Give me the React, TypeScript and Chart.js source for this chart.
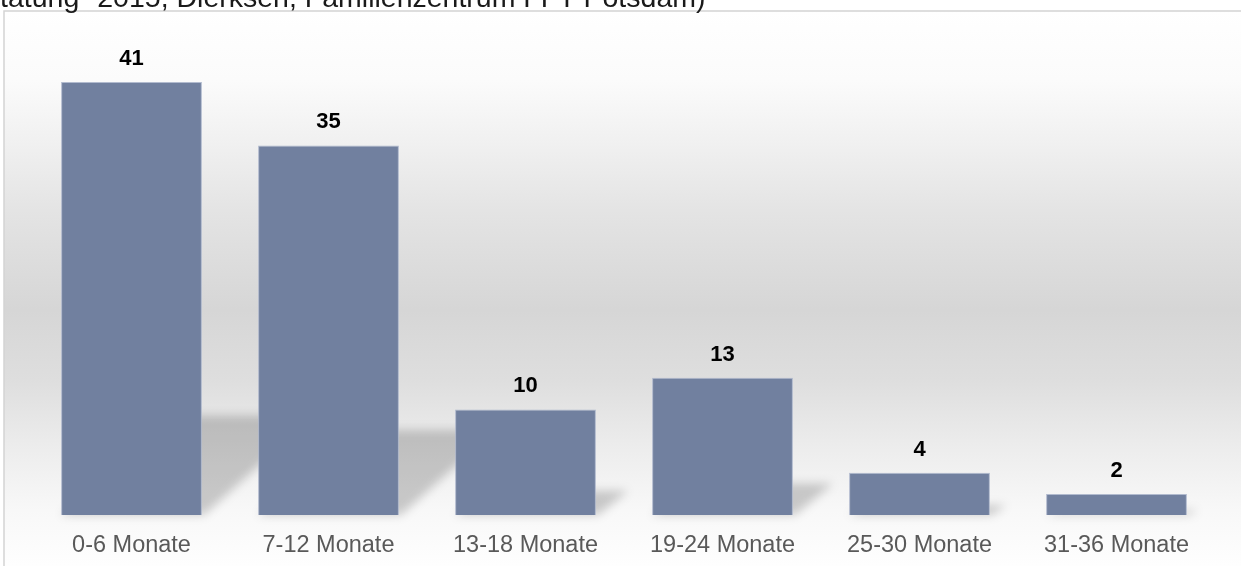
import React, { useEffect, useRef } from "react";
import { Chart, registerables } from "chart.js";

Chart.register(...registerables);

const categories = ["0-6 Monate", "7-12 Monate", "13-18 Monate", "19-24 Monate", "25-30 Monate", "31-36 Monate"];
const values = [41, 35, 10, 13, 4, 2];
const headerText = "tatung\" 2015, Dierksen, Familienzentrum FFT Potsdam)";

const FONT = "'Liberation Sans', Arial, Helvetica, sans-serif";

const backgroundPlugin = {
  id: "bgFrame",
  beforeDraw(chart: any) {
    const { ctx, width, height } = chart;
    ctx.save();
    ctx.fillStyle = "#ffffff";
    ctx.fillRect(0, 0, width, height);
    const top = 11;
    const left = 4;
    const g = ctx.createLinearGradient(0, top, 0, height);
    const span = height - top;
    const stop = (y: number, c: string) => g.addColorStop(Math.min(1, Math.max(0, (y - top) / span)), c);
    stop(11, "#ffffff");
    stop(80, "#fbfbfb");
    stop(145, "#f0f0f0");
    stop(210, "#e4e4e4");
    stop(310, "#d6d6d6");
    stop(380, "#dedede");
    stop(445, "#ececec");
    stop(510, "#f8f8f8");
    stop(566, "#fefefe");
    ctx.fillStyle = g;
    ctx.fillRect(left, top, width - left + 5, height - top + 5);
    ctx.strokeStyle = "#d4d4d4";
    ctx.lineWidth = 1.5;
    ctx.beginPath();
    ctx.moveTo(left, height + 5);
    ctx.lineTo(left, top);
    ctx.lineTo(width + 5, top);
    ctx.stroke();
    // header text (cut off at the top of the picture)
    ctx.fillStyle = "#1a1a1a";
    ctx.font = `28.5px ${FONT}`;
    ctx.textAlign = "left";
    ctx.textBaseline = "alphabetic";
    ctx.fillText(headerText, 0, 7);
    ctx.restore();
  },
};

const shadowPlugin = {
  id: "barShadows",
  beforeDatasetsDraw(chart: any) {
    const { ctx } = chart;
    const meta = chart.getDatasetMeta(0);
    ctx.save();
    ctx.filter = "blur(5px)";
    ctx.fillStyle = "rgba(0,0,0,0.19)";
    meta.data.forEach((bar: any) => {
      const p = bar.getProps(["x", "y", "base", "width"], true);
      const x0 = p.x - p.width / 2;
      const x1 = p.x + p.width / 2;
      const h = p.base - p.y;
      const dy = h * 0.23;
      const dx = dy * 1.07 + 6;
      ctx.beginPath();
      ctx.moveTo(x0, p.base);
      ctx.lineTo(x1 + 2, p.base);
      ctx.lineTo(x1 + dx, p.base - dy);
      ctx.lineTo(x0 + dx, p.base - dy);
      ctx.closePath();
      ctx.fill();
    });
    ctx.restore();
  },
};

const labelPlugin = {
  id: "valueLabels",
  afterDatasetsDraw(chart: any) {
    const { ctx } = chart;
    const meta = chart.getDatasetMeta(0);
    const data = chart.data.datasets[0].data;
    ctx.save();
    ctx.fillStyle = "#000000";
    ctx.font = `bold 22px ${FONT}`;
    ctx.textAlign = "center";
    ctx.textBaseline = "alphabetic";
    meta.data.forEach((bar: any, i: number) => {
      const p = bar.getProps(["x", "y"], true);
      ctx.fillText(String(data[i]), p.x, p.y - 17);
    });
    ctx.restore();
  },
};

export default function App() {
  const canvasRef = useRef<HTMLCanvasElement | null>(null);

  useEffect(() => {
    if (!canvasRef.current) return;
    const chart = new Chart(canvasRef.current, {
      type: "bar",
      data: {
        labels: categories,
        datasets: [
          {
            data: values,
            backgroundColor: "#71809f",
            borderColor: "rgba(170,180,202,0.9)",
            borderWidth: 1,
            barPercentage: 0.715,
            categoryPercentage: 1,
          },
        ],
      },
      options: {
        animation: false,
        responsive: true,
        maintainAspectRatio: false,
        layout: { padding: { left: 33, right: 26, top: 18.7, bottom: 7.4 } },
        plugins: {
          legend: { display: false },
          tooltip: { enabled: false },
          title: { display: false },
        },
        scales: {
          x: {
            grid: { display: false, drawTicks: false },
            border: { display: false },
            ticks: {
              color: "#595959",
              font: { family: FONT, size: 23.5 },
              padding: 16,
              maxRotation: 0,
              autoSkip: false,
            },
            afterFit: (scale: any) => {
              scale.height = 43.6;
            },
          },
          y: {
            display: false,
            min: 0,
            max: 47,
          },
        },
      },
      plugins: [backgroundPlugin, shadowPlugin, labelPlugin],
    });
    return () => chart.destroy();
  }, []);

  return (
    <div style={{ position: "fixed", left: 0, top: 0, width: 1241, height: 566, overflow: "hidden" }}>
      <canvas ref={canvasRef} style={{ width: "100%", height: "100%" }} />
    </div>
  );
}
